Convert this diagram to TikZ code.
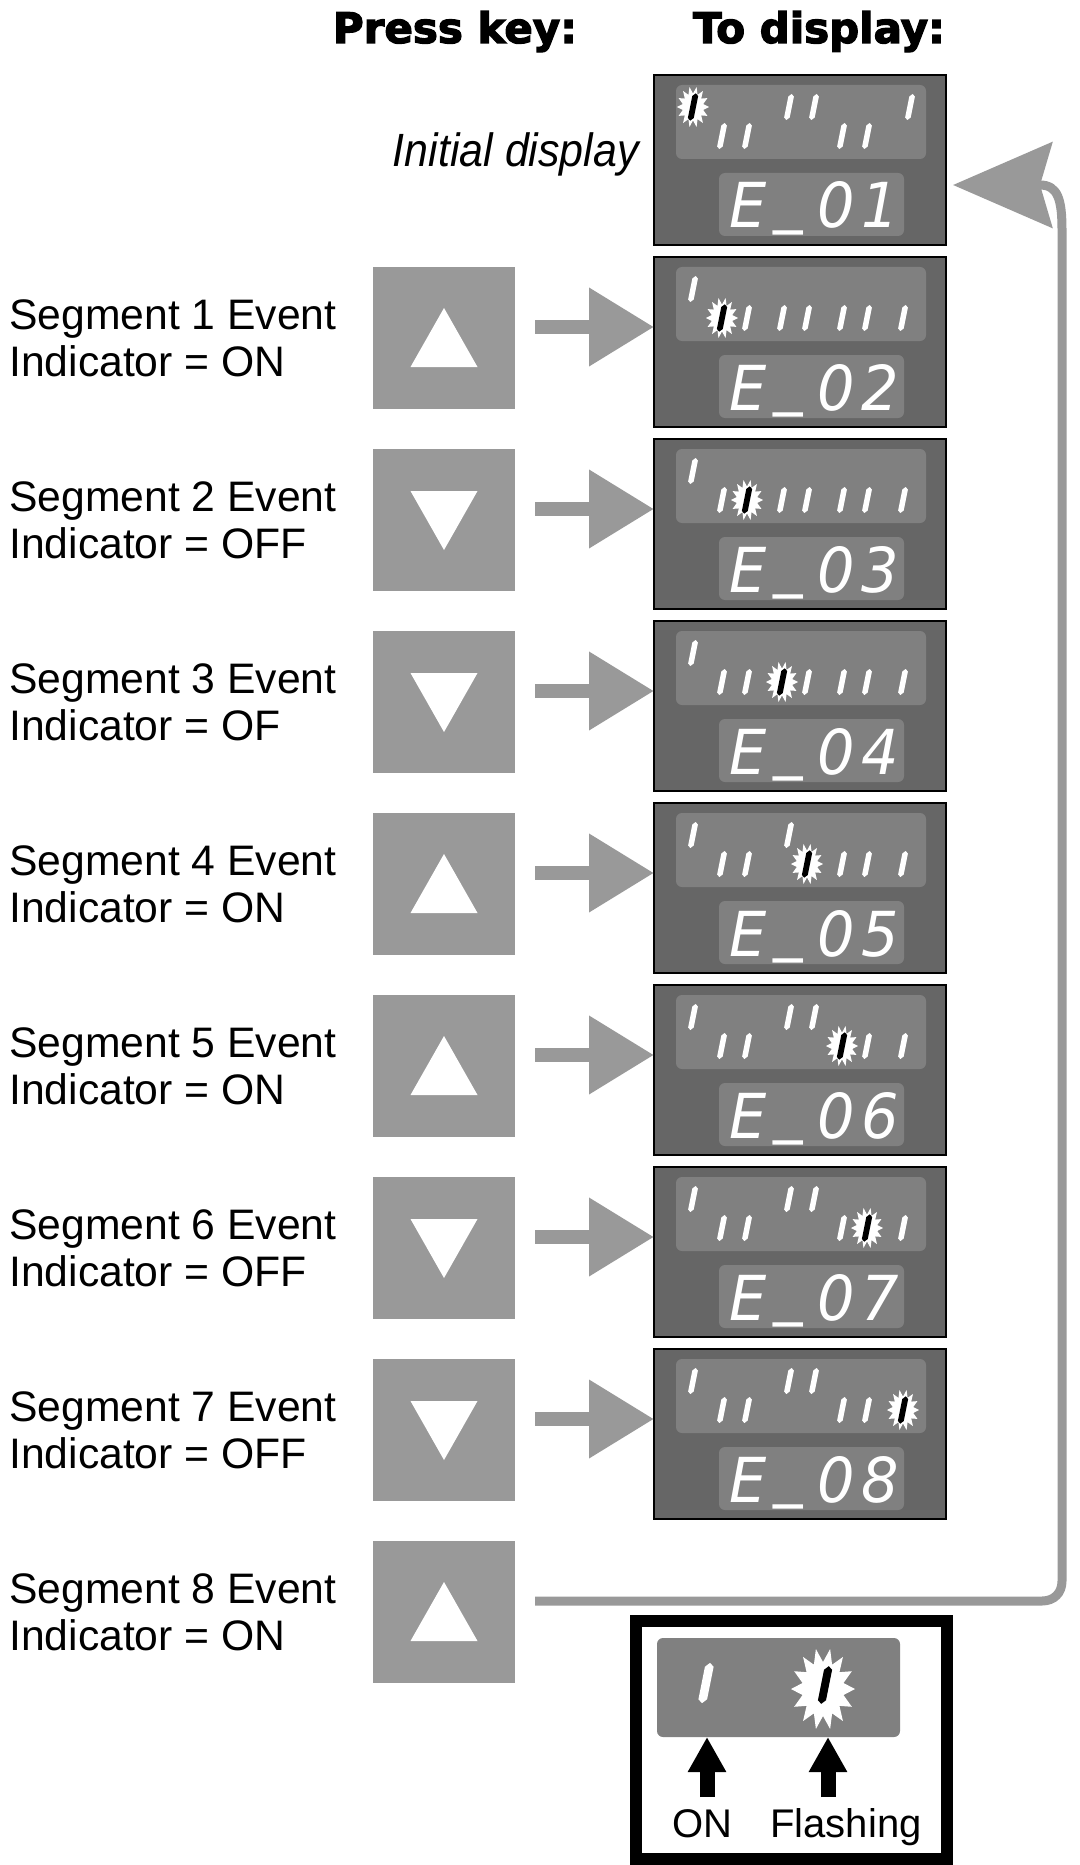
\documentclass[tikz,border=0pt]{standalone}
\usepackage{fontspec}
\usetikzlibrary{arrows.meta}
\setmainfont{Liberation Sans}
\newfontfamily\headfont[FakeBold=3]{DejaVu Sans}
\newfontfamily\narrowfont[FakeStretch=0.92]{Liberation Sans}
\newfontfamily\codefont[FakeStretch=0.95]{DejaVu Sans}
\definecolor{dispgray}{HTML}{666666}
\definecolor{panelgray}{HTML}{808080}
\definecolor{keygray}{HTML}{999999}
\newcommand\lcdseg[4]{\begin{scope}[shift={(#1,#2)},scale=#3]\fill[#4] (2.6,-13) -- (4.9,-10.5) -- (0.7,10.5) -- (-2.6,13) -- (-4.9,10.5) -- (-0.7,-10.5) -- cycle;\end{scope}}
\newcommand\lcdstar[3]{\begin{scope}[shift={(#1,#2)},scale=#3]\fill[white] plot[samples at={0,...,27},variable=\t] ({ifthenelse(mod(\t,2)==0,16,10.5)*cos(\t*360/28)},{ifthenelse(mod(\t,2)==0,20.5,13.5)*sin(\t*360/28)}) -- cycle;\end{scope}}
\newcommand\ecode[1]{E\kern5.1pt\raisebox{0.12em}{\_}\kern10.9pt0\kern4.9pt#1}
\newcommand\lcddisp[6]{%
  \node[dispbox,anchor=north west] (#1) at (654,#2) {};
  \fill[panelgray,rounded corners=4.5pt] (676,{#2+10}) rectangle (926,{#2+84});
  \fill[panelgray,rounded corners=4.5pt] (719,{#2+98}) rectangle (904,{#2+161});
  \foreach \s/\p in {#3}{\pgfmathsetmacro\sx{{686,722,747,782,807,842,867,903}[\s-1]+7*\p}\pgfmathsetmacro\sy{#2+61-29*\p}\lcdseg{\sx}{\sy}{1}{white}}
  \pgfmathsetmacro\fx{{686,722,747,782,807,842,867,903}[#4-1]+7*#5}
  \pgfmathsetmacro\fy{#2+61-29*#5}
  \lcdstar{\fx}{\fy}{1}
  \lcdseg{\fx}{\fy}{1.05}{black}
  \node[codetext,anchor=base west] (#1c) at (729,{#2+153}) {#6};
}
\begin{document}
\begin{tikzpicture}[x=0.75pt,y=-0.75pt,
  dispbox/.style={draw=black,line width=1.5pt,fill=dispgray,minimum width=219pt,minimum height=127.5pt,inner sep=0pt,outer sep=0pt},
  keybox/.style={fill=keygray,minimum width=106.5pt,minimum height=106.5pt,inner sep=0pt,outer sep=0pt},
  codetext/.style={text=white,inner sep=0pt,font=\codefont\itshape\fontsize{46.5pt}{50pt}\selectfont},
  labtext/.style={align=left,inner sep=0pt,font=\fontsize{32pt}{35.25pt}\selectfont},
  headtext/.style={inner sep=0pt,font=\headfont\bfseries\fontsize{31.5pt}{36pt}\selectfont},
  inittext/.style={inner sep=0pt,font=\narrowfont\itshape\fontsize{35pt}{40pt}\selectfont},
  legtext/.style={inner sep=0pt,font=\fontsize{30pt}{34pt}\selectfont},
  rowarrow/.style={draw=keygray,line width=10.5pt,-{Triangle[length=48.75pt,width=56.25pt]}},
  retarrow/.style={draw=keygray,line width=6.75pt,-{Stealth[length=74.25pt,width=63.75pt,inset=9pt]}},
  blkarrow/.style={draw=black,line width=11.25pt,-{Triangle[length=26.25pt,width=27pt]}},
  legendbox/.style={draw=black,line width=9pt,fill=white,minimum width=233.25pt,minimum height=178.5pt,inner sep=0pt,outer sep=0pt},
  legpanel/.style={fill=panelgray,rounded corners=4.5pt,minimum width=182.25pt,minimum height=74.25pt,inner sep=0pt,outer sep=0pt}]
\useasboundingbox (0,0) rectangle (1080,1865);
\fill[white] (0,0) rectangle (1080,1865);
% headers
\node[headtext,anchor=base] (hpress) at (455,43) {Press key:};
\node[headtext,anchor=base] (hdisp) at (819,43) {To display:};
\node[inittext,anchor=base east] (init) at (639,167) {Initial display};
% displays
\lcddisp{d1}{75}{2/0,3/0,4/1,5/1,6/0,7/0,8/1}{1}{1}{\ecode{1}}
\lcddisp{d2}{257}{1/1,3/0,4/0,5/0,6/0,7/0,8/0}{2}{0}{\ecode{2}}
\lcddisp{d3}{439}{1/1,2/0,4/0,5/0,6/0,7/0,8/0}{3}{0}{\ecode{3}}
\lcddisp{d4}{621}{1/1,2/0,3/0,5/0,6/0,7/0,8/0}{4}{0}{\ecode{4}}
\lcddisp{d5}{803}{1/1,2/0,3/0,4/1,6/0,7/0,8/0}{5}{0}{\ecode{5}}
\lcddisp{d6}{985}{1/1,2/0,3/0,4/1,5/1,7/0,8/0}{6}{0}{\ecode{6}}
\lcddisp{d7}{1167}{1/1,2/0,3/0,4/1,5/1,6/0,8/0}{7}{0}{\ecode{7}}
\lcddisp{d8}{1349}{1/1,2/0,3/0,4/1,5/1,6/0,7/0}{8}{0}{\ecode{8}}
% keys and labels
\foreach \i/\sg/\st in {1/1/ON,2/-1/OFF,3/-1/OF,4/1/ON,5/1/ON,6/-1/OFF,7/-1/OFF,8/1/ON}{
  \node[keybox] (b\i) at (444,{338+182*(\i-1)}) {};
  \begin{scope}[shift={(b\i.center)}]
    \fill[white] (-33.5,{29*\sg}) -- (33.5,{29*\sg}) -- (0,{-30*\sg}) -- cycle;
  \end{scope}
  \node[labtext,anchor=west] (lab\i) at (9,{338+182*(\i-1)}) {Segment \i{} Event\\Indicator = \st};
}
% row arrows
\foreach \i [evaluate=\i as \j using int(\i+1)] in {1,...,7}{
  \draw[rowarrow] ([xshift=15pt,yshift=8.25pt]b\i.east) -- ([yshift=11.25pt]d\j.west);
}
% return arrow
\draw[retarrow] ([xshift=15pt,yshift=8.25pt]b8.east) -- (1042,1601) .. controls (1054,1601) and (1062,1593) .. (1062,1581) -- (1062,230) .. controls (1062,200) and (1058,185) .. (1040,185) -- ([xshift=5.25pt,yshift=-18.75pt]d1.east);
% legend
\node[legendbox] (legend) at (791.5,1740) {};
\node[legpanel] (lpanel) at (778.5,1687.5) {};
\lcdseg{706}{1683}{1.55}{white}
\lcdstar{823}{1689}{2}
\lcdseg{825}{1685}{1.45}{black}
\node[legtext,anchor=base] (lon) at (702,1837) {ON};
\node[legtext,anchor=base] (lfl) at (846,1837) {Flashing};
\coordinate (onfoot) at (707,1797);
\coordinate (flfoot) at (828,1797);
\draw[blkarrow] (onfoot) -- (onfoot |- lpanel.south);
\draw[blkarrow] (flfoot) -- (flfoot |- lpanel.south);
\end{tikzpicture}
\end{document}
